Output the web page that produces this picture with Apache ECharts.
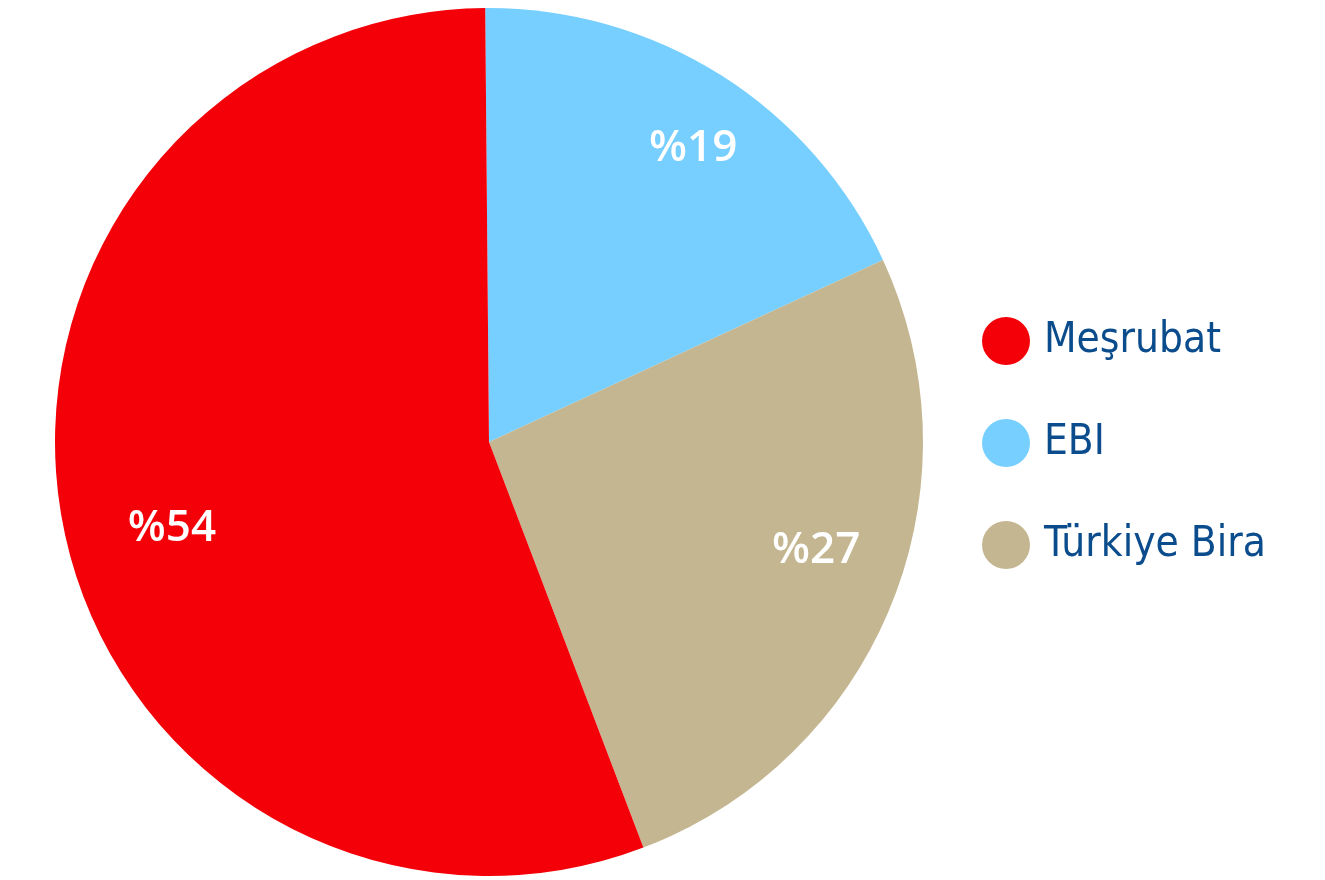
<!DOCTYPE html>
<html>
<head>
<meta charset="utf-8">
<script src="https://cdn.jsdelivr.net/npm/echarts@6/dist/echarts.min.js"></script>
<style>html,body{margin:0;padding:0;background:#fff}#c{width:1325px;height:880px}</style>
</head>
<body>
<div id="c"></div>
<script>
// Data (clockwise from top)
const categories = ['EBI', 'Türkiye Bira', 'Meşrubat'];
const shares = [18.25, 26.1, 55.65];          // slice sizes as drawn
const labelTexts = ['%19', '%27', '%54'];     // printed labels
const colors = ['#76CFFF', '#C4B690', '#F40009'];
const legendOrder = ['Meşrubat', 'EBI', 'Türkiye Bira'];

const chart = echarts.init(document.getElementById('c'), null, {renderer: 'canvas'});
const pieData = categories.map((n, i) => ({name: n, value: shares[i], itemStyle: {color: colors[i]}}));
const labelData = categories.map((n, i) => ({name: n, value: shares[i], label: {formatter: labelTexts[i]}}));
const labelShift = [[18, 0], [5, -23], [25, 22]];

chart.setOption({
  animation: false,
  legend: {
    data: legendOrder,
    orient: 'vertical',
    left: 982,
    top: 317,
    padding: 0,
    icon: 'circle',
    itemWidth: 48,
    itemHeight: 48,
    itemGap: 54,
    itemTextGap: 14,
    selectedMode: false,
    textStyle: {
      fontFamily: "'DejaVu Sans Condensed', 'DejaVu Sans', sans-serif",
      fontSize: 42,
      lineHeight: 48,
      padding: [0, 0, 0, 9],
      color: '#0B4C8C'
    }
  },
  series: [
    {
      type: 'pie',
      center: [489, 442],
      radius: [0, 434],
      startAngle: 90.5,
      clockwise: true,
      silent: true,
      label: {show: false},
      labelLine: {show: false},
      data: pieData
    },
    {
      type: 'pie',
      center: [489, 442],
      radius: [256, 434],
      startAngle: 90.5,
      clockwise: true,
      silent: true,
      legendHoverLink: false,
      itemStyle: {color: 'rgba(0,0,0,0)'},
      label: {
        show: true,
        position: 'inside',
        color: '#ffffff',
        fontFamily: "'Open Sans', Lato, sans-serif",
        fontSize: 44,
        fontWeight: 600
      },
      labelLayout: function (p) { return {dx: labelShift[p.dataIndex][0], dy: labelShift[p.dataIndex][1]}; },
      labelLine: {show: false},
      data: labelData
    }
  ]
});
</script>
</body>
</html>
